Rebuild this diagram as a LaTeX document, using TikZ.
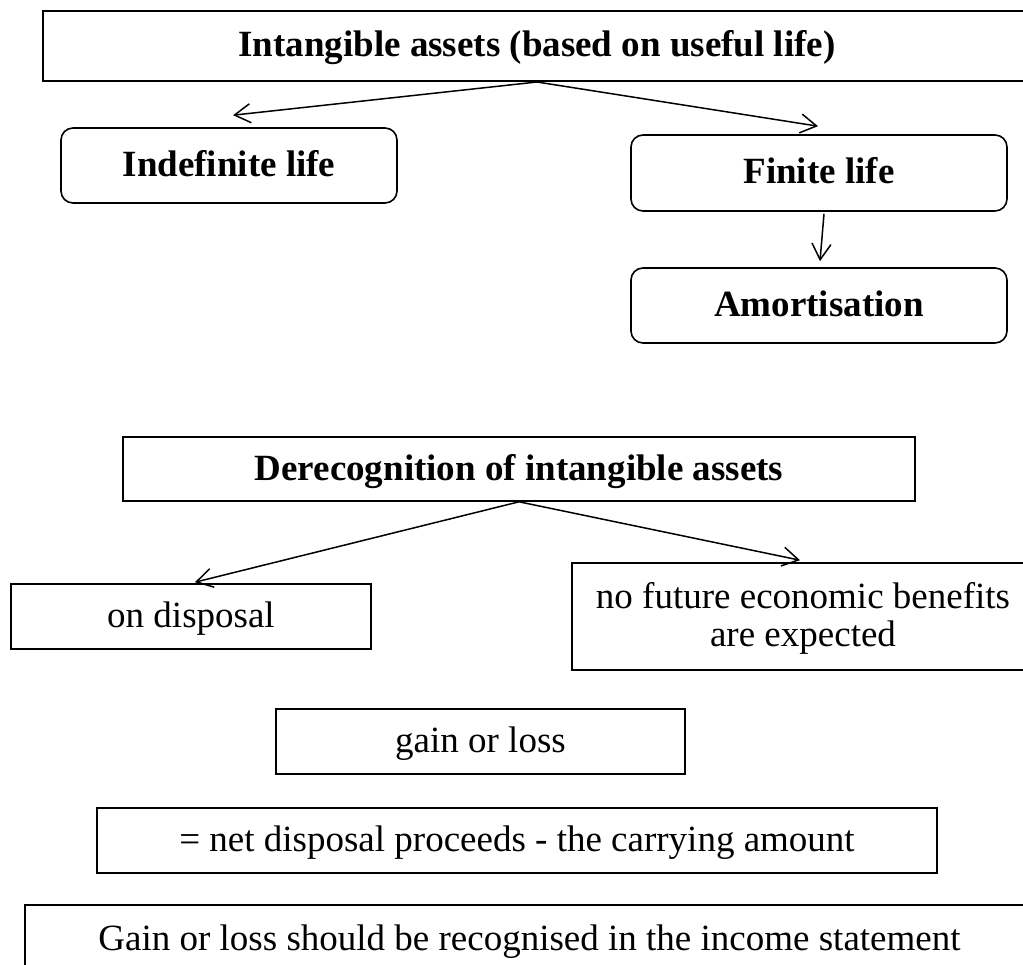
\documentclass[tikz,border=0pt]{standalone}
\usepackage{fontspec}
\setmainfont{Liberation Serif}
\usetikzlibrary{arrows.meta,calc}
\begin{document}
\begin{tikzpicture}[x=1pt,y=-1pt,
  box/.style={draw,line width=1.6pt,inner sep=0pt,text height=24pt,text depth=2pt,
    font=\fontsize{37}{38}\selectfont},
  boldbox/.style={box,font=\fontsize{37}{38}\selectfont\bfseries},
  roundbox/.style={boldbox,rounded corners=12pt},
  arr/.style={line width=1.5pt,-{Straight Barb[length=16pt,width=19pt]}}]
\useasboundingbox (0,0) rectangle (1023,965);
\clip (0,0) rectangle (1023,965);

% useful-life classification
\node[boldbox,line width=2pt,minimum width=988pt,minimum height=70pt] (top) at (537,46)
  {Intangible assets (based on useful life)};
\node[roundbox,minimum width=336pt,minimum height=75pt] (indef) at (229,165.5) {Indefinite life};
\node[roundbox,minimum width=376pt,minimum height=76pt] (finite) at (819,173) {Finite life};
\node[roundbox,minimum width=376pt,minimum height=75pt] (amort) at (819,305.5) {Amortisation};

\draw[arr] (top.south) -- ($(indef.north)+(4,-12)$);
\draw[arr] (top.south) -- ($(finite.north)+(-1,-8)$);
\draw[arr] ($(finite.south)+(5,2)$) -- ($(amort.north)+(1,-6)$);

% derecognition
\node[boldbox,minimum width=792pt,minimum height=64pt] (derec) at (519,469)
  {Derecognition of intangible assets};
\node[box,minimum width=360pt,minimum height=65pt] (dispo) at (191,616.5) {on disposal};
\node[box,minimum width=462pt,minimum height=107pt,align=center,text height=62pt,text depth=2pt]
  (nofut) at (803,616.5) {no future economic benefits\\are expected};

\draw[arr] (derec.south) -- ($(dispo.north)+(4,-1)$);
\draw[arr] (derec.south) -- ($(nofut.north)+(-3,-2)$);

% gain or loss
\node[box,minimum width=409pt,minimum height=65pt] (gain) at (480.5,741.5) {gain or loss};
\node[box,minimum width=840pt,minimum height=65pt] (net) at (517,840.5)
  {= net disposal proceeds - the carrying amount};
\node[box,minimum width=1009pt,minimum height=68pt] (recog) at (529.5,939)
  {Gain or loss should be recognised in the income statement};
\end{tikzpicture}
\end{document}
